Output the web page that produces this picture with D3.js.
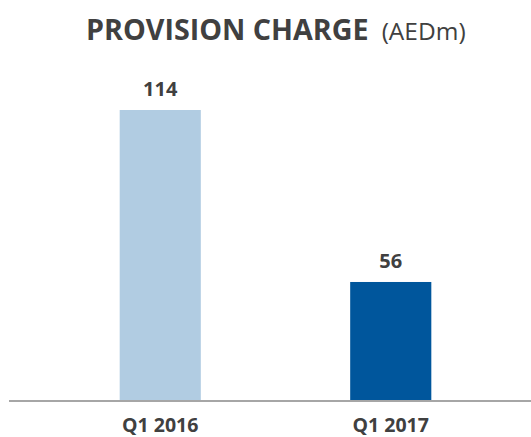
<!DOCTYPE html>
<html>
  <head>
    <meta charset="utf-8">
    <title>Provision Charge</title>
    <script src="https://cdn.jsdelivr.net/npm/d3@7"></script>
    <style media="screen">
      body {
        margin: 0;
        background: #fff;
      }
      svg {
        display: block;
        font-family: "Open Sans", sans-serif;
      }
      .bar-label, .cat-label {
        font-weight: bold;
        fill: #404040;
        text-anchor: middle;
      }
    </style>
  </head>
  <body>
    <script type="text/javascript">

    const categories = ['Q1 2016', 'Q1 2017'];
    const values = [114, 56];
    const barColors = ['#b1cce2', '#00569c'];

    let width = 531,
        height = 437,
        baseline = 400;

    var svg = d3.select('body').append('svg')
      .attr('width', width)
      .attr('height', height);

    // title, bold part + unit in normal weight
    let title = svg.append('text')
      .attr('x', 86)
      .attr('y', 40)
      .style('fill', '#404040')
      .style('font-size', '28.7px');
    title.append('tspan').style('font-weight', 'bold').text('PROVISION CHARGE');
    title.append('tspan').attr('dx', 13).text('(AEDm)').style('font-size', '24.5px');

    var x = d3.scaleBand()
      .domain(categories)
      .range([45, 506])
      .paddingInner(0.648)
      .paddingOuter(0.324);

    // the axis in the picture does not start at zero
    var y = d3.scaleLinear()
      .domain([16.2, 114])
      .range([baseline, 110]);

    svg.selectAll('.bar')
      .data(values).enter()
      .append('rect')
      .attr('class', 'bar')
      .attr('x', (d, i) => x(categories[i]))
      .attr('y', d => y(d))
      .attr('width', x.bandwidth())
      .attr('height', d => baseline - y(d))
      .style('fill', (d, i) => barColors[i]);

    svg.selectAll('.bar-label')
      .data(values).enter()
      .append('text')
      .attr('class', 'bar-label')
      .attr('x', (d, i) => x(categories[i]) + x.bandwidth() / 2)
      .attr('y', d => y(d) - 14)
      .style('font-size', '20px')
      .text(d => d);

    // baseline
    svg.append('line')
      .attr('x1', 9)
      .attr('x2', width)
      .attr('y1', baseline + 1)
      .attr('y2', baseline + 1)
      .style('stroke', '#a6a6a6')
      .style('stroke-width', 2);

    svg.selectAll('.cat-label')
      .data(categories).enter()
      .append('text')
      .attr('class', 'cat-label')
      .attr('x', d => x(d) + x.bandwidth() / 2)
      .attr('y', 432)
      .style('font-size', '19.5px')
      .text(d => d);
    </script>
  </body>
</html>
